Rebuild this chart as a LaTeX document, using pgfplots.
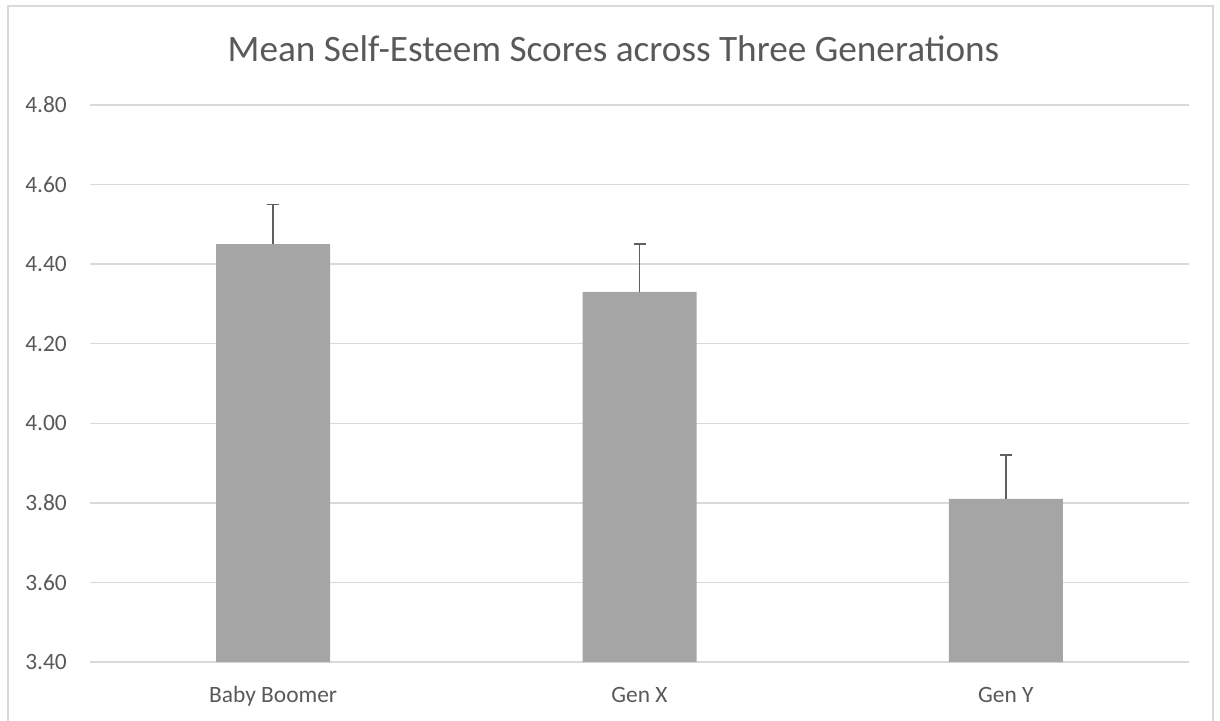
\documentclass[border=0pt]{standalone}
\usepackage{fontspec}
\setmainfont{Carlito}
\usepackage{pgfplots}
\pgfplotsset{compat=1.18}

\definecolor{txt}{HTML}{595959}
\definecolor{gridc}{HTML}{D9D9D9}
\definecolor{barc}{HTML}{A5A5A5}
\definecolor{errc}{HTML}{606060}

\begin{document}
\begin{tikzpicture}
\useasboundingbox (0bp,0bp) rectangle (1220bp,721bp);
% chart area frame
\draw[color=gridc, line width=1.5bp] (8bp,-20bp) -- (8bp,715bp) -- (1213bp,715bp) -- (1213bp,-20bp);
\node[anchor=base, text=txt, font=\fontsize{37.4}{44}\selectfont] at (613.5bp,659bp)
  {Mean Self-Esteem Scores across Three Generations};
\begin{axis}[
    at={(90bp,59bp)}, anchor=south west,
    scale only axis,
    width=1099bp, height=557bp,
    xmin=-0.5, xmax=2.5,
    ymin=3.4, ymax=4.8,
    ybar, bar width=114bp,
    xtick={0,1,2},
    xticklabels={Baby Boomer,Gen X,Gen Y},
    ytick={3.4,3.6,3.8,4.0,4.2,4.4,4.6,4.8},
    yticklabel style={/pgf/number format/.cd, fixed, fixed zerofill, precision=2, /tikz/.cd,
        anchor=east, inner sep=0pt, xshift=-23bp},
    xticklabel style={anchor=base, inner sep=0pt, yshift=-40bp},
    /pgf/number format/assume math mode=true,
    tick label style={font=\fontsize{23.5}{28}\selectfont, text=txt},
    major tick length=0pt,
    ymajorgrids, grid style={color=gridc, line width=1.5bp},
    axis line style={draw=none},
]
\addplot[fill=barc, draw=none,
    error bars/.cd, y dir=plus, y explicit,
    error bar style={color=errc, line width=1.5bp},
    error mark options={color=errc, line width=1.5bp, mark size=6bp, rotate=90}]
  coordinates {
    (0,4.45) +- (0,0.10)
    (1,4.33) +- (0,0.12)
    (2,3.81) +- (0,0.11)
  };
\end{axis}
\end{tikzpicture}
\end{document}
